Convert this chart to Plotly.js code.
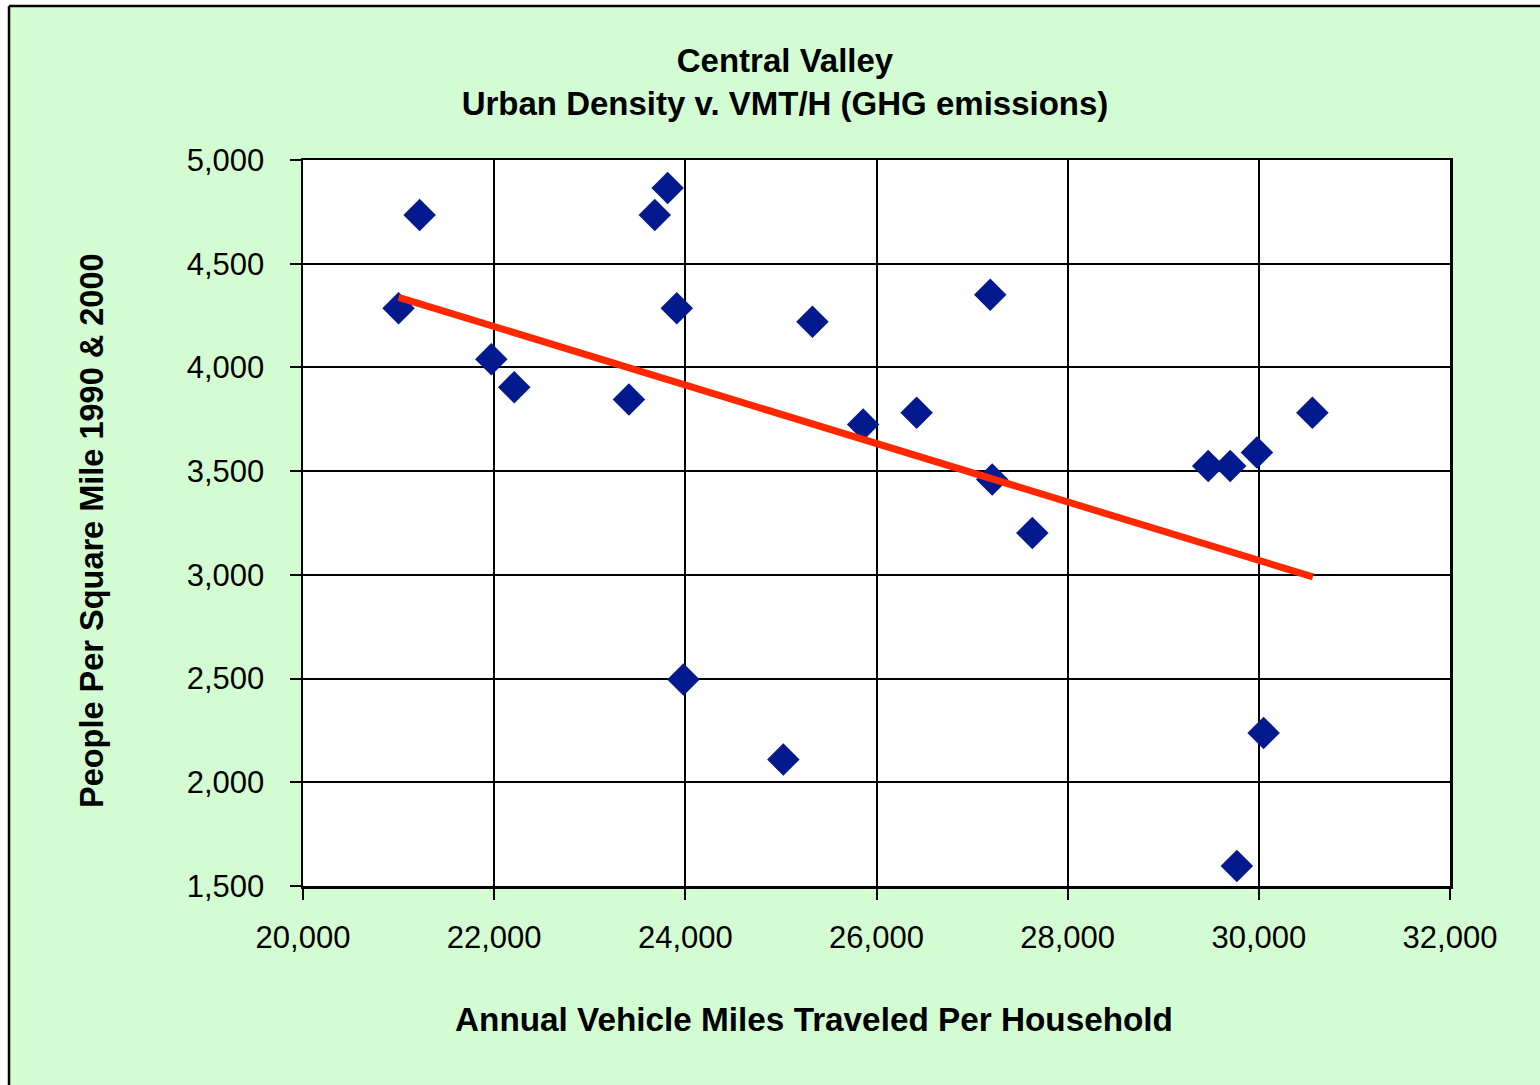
<!DOCTYPE html>
<html>
<head>
<meta charset="utf-8">
<script src="https://cdn.plot.ly/plotly-3.0.1.min.js"></script>
<style>
html, body { margin: 0; padding: 0; background: #ffffff; }
#chart { width: 1540px; height: 1085px; }
</style>
</head>
<body>
<div id="chart"></div>
<script>
// Annual vehicle miles traveled per household (x) vs people per square mile (y)
const vmtPerHousehold = [21000, 21220, 21970, 22210, 23410, 23680, 23815, 23910, 23980, 25025, 25330, 25860,
                         26420, 27190, 27210, 27630, 29470, 29700, 29770, 29980, 30050, 30560];
const peoplePerSqMile = [4285, 4735, 4040, 3905, 3845, 4735, 4865, 4285, 2495, 2110, 4220, 3725,
                         3782, 4350, 3460, 3202, 3525, 3525, 1596, 3590, 2238, 3782];
// Linear trend line end points (as drawn in the reference)
const trendX = [21000, 30565];
const trendY = [4338, 2990];

const titleLines = ["Central Valley", "Urban Density v. VMT/H (GHG emissions)"];
const xTitle = "Annual Vehicle Miles Traveled Per Household";
const yTitle = "People Per Square Mile 1990 & 2000";
const xRange = [20000, 32000];
const yRange = [1500, 5000];

const W = 1540, H = 1085;
const L = 303, R = 1450, T = 160, B = 886;
const px = v => (v - L) / (R - L);      // pixel x -> paper x
const py = v => (B - v) / (B - T);      // pixel y -> paper y

const green = '#D3FCD3';
const fontFamily = 'Liberation Sans, Arial, sans-serif';

const traces = [
  {
    type: 'scatter', mode: 'markers',
    x: vmtPerHousehold, y: peoplePerSqMile,
    marker: { symbol: 'diamond', size: 25, color: '#031A8E', line: { width: 0 } },
    hoverinfo: 'x+y', showlegend: false
  },
  {
    type: 'scatter', mode: 'lines',
    x: trendX, y: trendY,
    line: { color: '#FF2800', width: 7 },
    hoverinfo: 'skip', showlegend: false
  }
];

const axisCommon = {
  showline: true, mirror: true, linecolor: '#000000', linewidth: 2.5,
  showgrid: true, gridcolor: '#000000', gridwidth: 2,
  zeroline: false,
  ticks: 'outside', ticklen: 11, tickwidth: 2, tickcolor: '#000000',
  tickfont: { family: fontFamily, size: 31, color: '#000000' },
  tickformat: ',.0f', fixedrange: true
};

const layout = {
  width: W, height: H,
  margin: { l: L, r: W - R, t: T, b: H - B, pad: 0 },
  paper_bgcolor: green,
  plot_bgcolor: '#ffffff',
  showlegend: false,
  font: { family: fontFamily, color: '#000000' },
  title: {
    text: titleLines.join('<br>'),
    font: { family: fontFamily, size: 33, weight: 700, color: '#000000' },
    xref: 'container', x: 785 / W, xanchor: 'center',
    yref: 'container', y: 1 - 72 / H, yanchor: 'top'
  },
  xaxis: Object.assign({}, axisCommon, {
    range: xRange, dtick: 2000, tick0: 20000, ticklabelstandoff: 11
  }),
  yaxis: Object.assign({}, axisCommon, {
    range: yRange, dtick: 500, tick0: 1500, ticklabelstandoff: 19
  }),
  annotations: [
    {
      text: xTitle, showarrow: false,
      xref: 'paper', yref: 'paper', x: px(814), y: py(1019),
      xanchor: 'center', yanchor: 'middle',
      font: { family: fontFamily, size: 33.3, weight: 700, color: '#000000' }
    },
    {
      text: yTitle, showarrow: false, textangle: -90,
      xref: 'paper', yref: 'paper', x: px(92), y: py(530),
      xanchor: 'center', yanchor: 'middle',
      font: { family: fontFamily, size: 32.5, weight: 700, color: '#000000' }
    }
  ],
  shapes: [
    // white margin outside the chart frame (left and top)
    { type: 'rect', xref: 'paper', yref: 'paper', layer: 'above',
      x0: px(-20), x1: px(9), y0: py(1200), y1: py(-20),
      fillcolor: '#ffffff', line: { width: 0 } },
    { type: 'rect', xref: 'paper', yref: 'paper', layer: 'above',
      x0: px(-20), x1: px(1600), y0: py(6), y1: py(-20),
      fillcolor: '#ffffff', line: { width: 0 } },
    // chart frame
    { type: 'line', xref: 'paper', yref: 'paper', layer: 'above',
      x0: px(9), x1: px(9), y0: py(6), y1: py(1200),
      line: { color: '#000000', width: 2.5 } },
    { type: 'line', xref: 'paper', yref: 'paper', layer: 'above',
      x0: px(9), x1: px(1600), y0: py(6), y1: py(6),
      line: { color: '#000000', width: 2.5 } }
  ]
};

Plotly.newPlot('chart', traces, layout, { displayModeBar: false, staticPlot: true });
</script>
</body>
</html>
